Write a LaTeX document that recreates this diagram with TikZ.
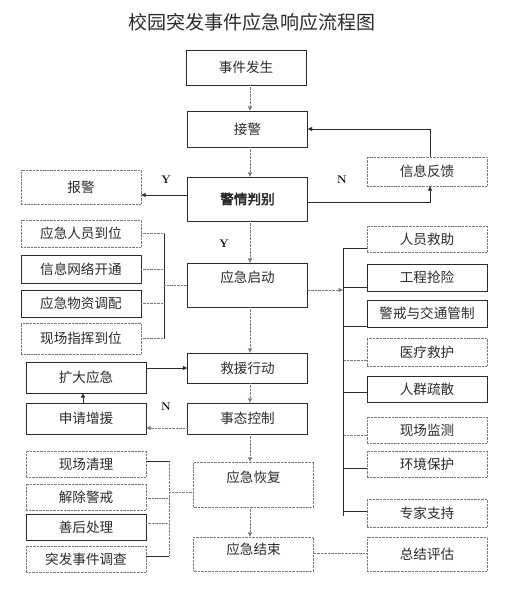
\documentclass[tikz,border=0pt]{standalone}
\usepackage{fontspec}
\newfontfamily\cjk{Noto Sans CJK SC}
\newfontfamily\cjkbold[FakeBold=3]{Noto Sans CJK SC}
\usetikzlibrary{arrows.meta,calc,positioning}
\definecolor{ink}{HTML}{2A2A2A}
\definecolor{dotgray}{HTML}{7A7A7A}
\tikzset{>={Triangle[length=4.5pt,width=4pt]},line width=.6pt,
  every node/.style={font=\cjk\fontsize{13.6}{15}\selectfont,text=ink},
  box/.style={draw=ink,minimum width=120pt,inner sep=0pt},
  dbox/.style={box,draw=dotgray,densely dotted},
  link/.style={draw=ink},
  dlink/.style={draw=dotgray,densely dotted},
  yn/.style={font=\bfseries\fontsize{11}{12}\selectfont,text=black}}

\begin{document}
\begin{tikzpicture}[x=1pt,y=-1pt]
\useasboundingbox(0,0)rectangle(518,598);
\node (title) at (252,22) {\fontsize{19}{21}\selectfont 校园突发事件应急响应流程图};
% main column
\node[box,minimum height=35pt] (event) at (246,67.5) {事件发生};
\node[box,minimum height=36pt] (alarm) at (247.5,129) {接警};
\node[box,minimum height=44pt] (judge) at (247.5,199) {\cjkbold 警情判别};
\node[box,minimum height=44pt,text height=10pt,text depth=15pt] (start) at (247.5,285) {应急启动};
\node[box,minimum height=30pt] (rescue) at (247.5,368) {救援行动};
\node[box,minimum height=31pt] (control) at (247.5,418.5) {事态控制};
\node[dbox,minimum height=45pt,text height=10pt,text depth=14pt] (recover) at (253.5,484.5) {应急恢复};
\node[dbox,minimum height=34pt,text height=10pt,text depth=9pt] (finish) at (253.5,554) {应急结束};
\node[dbox,minimum height=34pt] (report) at (81,187) {报警};
\node[dbox,minimum height=29pt] (feedback) at (427,171.5) {信息反馈};
\node[box,minimum height=31pt] (expand) at (86,377.5) {扩大应急};
\node[box,minimum height=31pt] (request) at (86,418.5) {申请增援};
\node[dbox,minimum height=34pt] (review) at (427,554) {总结评估};
% side groups
\foreach \nm/\yy/\hh/\st/\txt in {staff/233.5/27/dbox/应急人员到位,net/269/28/box/信息网络开通,
  supply/303.5/27/box/应急物资调配,command/338.5/31/dbox/现场指挥到位}
  \node[\st,minimum height=\hh pt] (\nm) at (81,\yy) {\txt};
\foreach \nm/\yy/\st/\txt in {cleanup/464/dbox/现场清理,lift/497/dbox/解除警戒,
  after/527/box/善后处理,probe/559/dbox/突发事件调查}
  \node[\st,minimum height=26pt] (\nm) at (86,\yy) {\txt};
\foreach \nm/\yy/\hh/\st/\txt in {aid/239/26/dbox/人员救助,repair/277.5/27/box/工程抢险,
  traffic/313.5/27/box/警戒与交通管制,medical/352/28/dbox/医疗救护,evac/389/26/box/人群疏散,
  monitor/430/26/dbox/现场监测,environ/464/26/dbox/环境保护,expert/513/28/dbox/专家支持}
  \node[\st,minimum height=\hh pt] (\nm) at (427,\yy) {\txt};
% connectors
\coordinate (axis) at (250,0);
\foreach \a/\b in {event/alarm,alarm/judge,judge/start,start/rescue,rescue/control,control/recover,recover/finish}
  \draw[dlink,->] (\a.south -| axis) -- (\b.north -| axis);
\draw[link,->] ([yshift=4pt]judge.west) -- ([yshift=4pt]judge.west -| report.east);
\draw[link,->] ([yshift=-3pt]judge.east) -| ([xshift=3pt]feedback.south);
\draw[link,->] ([xshift=3pt]feedback.north) |- (alarm.east);
\node[yn] (y1) at (166,180) {Y};\node[yn] (n1) at (342,180) {N};
\node[yn] (y2) at (224,244) {Y};\node[yn] (n2) at (166,407) {N};
\coordinate (bra) at (164,0);
\foreach \nm in {staff,net,supply,command} \draw[dlink] (\nm.east) -- (\nm.east -| bra);
\draw[link] (staff.east -| bra) -- (command.east -| bra);
\draw[dlink] (start.west -| bra) -- (start.west);
\coordinate (spinetop) at (343,248);\coordinate (spinebot) at (343,516);
\draw[link] (spinetop) -- (spinebot);
\draw[dlink,->] ([yshift=-5pt]start.east) -- ([yshift=-5pt]start.east -| spinetop);
\foreach \nm/\dy/\st in {aid/-9/link,repair/-10/link,traffic/-12.5/link,medical/-8/dlink,
  evac/-3/link,monitor/-5/dlink,environ/-4/link,expert/2/link}
  \draw[\st] ([yshift=\dy pt]\nm.west) -- ([yshift=\dy pt]\nm.west -| spinetop);
\draw[link,->] (expand.east |- rescue.west) -- (rescue.west);
\draw[link,->] ([xshift=-3pt]request.north) -- ([xshift=-3pt]expand.south);
\draw[dlink,->] ([yshift=-9.5pt]control.west) -- ([yshift=-9.5pt]control.west -| request.east);
\coordinate (brb) at (169,0);
\foreach \nm/\dy/\st in {cleanup/3/link,lift/-1/dlink,after/4/dlink,probe/3/link}
  \draw[\st] ([yshift=\dy pt]\nm.east) -- ([yshift=\dy pt]\nm.east -| brb);
\draw[dlink] ([yshift=3pt]cleanup.east -| brb) -- ([yshift=3pt]probe.east -| brb);
\draw[dlink] ([yshift=-7.5pt]recover.west -| brb) -- ([yshift=-7.5pt]recover.west);
\draw[dlink] ([yshift=1pt]finish.east) -- ([yshift=1pt]review.west);
\end{tikzpicture}
\end{document}
